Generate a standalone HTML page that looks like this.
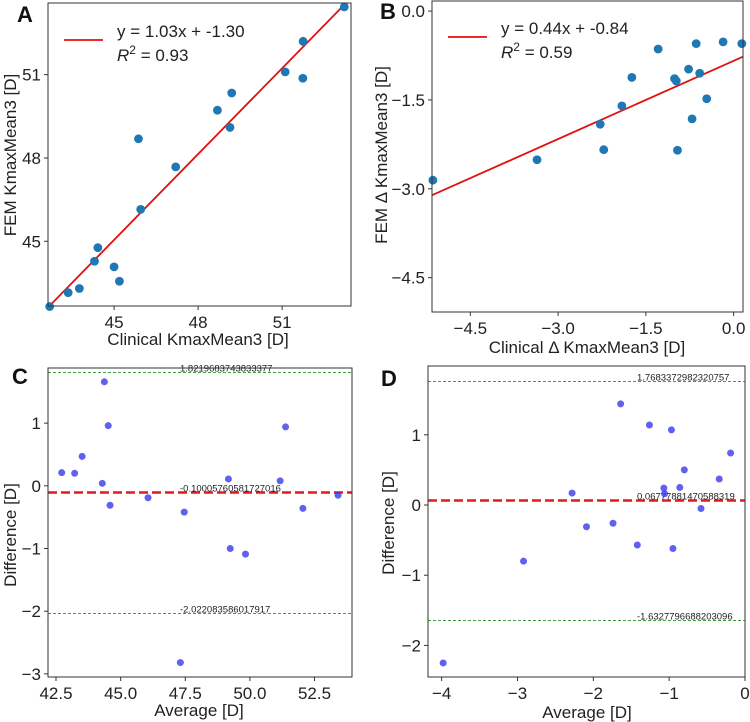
<!DOCTYPE html>
<html><head><meta charset="utf-8">
<style>
html,body{margin:0;padding:0;background:#fff;}
svg{display:block;font-family:"Liberation Sans",sans-serif;}
</style></head>
<body>
<svg id="fig" width="750" height="722" viewBox="0 0 750 722" xmlns="http://www.w3.org/2000/svg"></svg>
<script>
// ---- Panel A data ----
const aX = [42.70,43.36,43.76,44.30,44.42,45.00,45.19,45.87,45.95,47.20,48.69,49.14,49.20,51.11,51.74,51.75,53.22];
const aY = [42.65,43.15,43.30,44.28,44.77,44.08,43.56,48.69,46.15,47.68,49.72,49.10,50.34,51.10,50.87,52.20,53.44];
const aFit = [1.03, -1.30];
const aTicks = [45, 48, 51];
// ---- Panel B data ----
const bX = [-5.14,-3.36,-2.28,-2.22,-1.91,-1.74,-1.29,-1.01,-0.98,-0.96,-0.77,-0.71,-0.64,-0.58,-0.46,-0.18,0.14];
const bY = [-2.855,-2.51,-1.91,-2.34,-1.60,-1.12,-0.64,-1.14,-1.18,-2.35,-0.98,-1.82,-0.55,-1.05,-1.48,-0.52,-0.55];
const bFit = [0.44, -0.84];
const bTicks = [-4.5, -3.0, -1.5, 0.0];
const bTickLabels = ["\u22124.5","\u22123.0","\u22121.5","0.0"];
// ---- Panel C data ----
const cX = [42.72,43.22,43.51,44.37,44.29,44.52,44.59,46.06,47.31,47.46,49.17,49.24,49.83,51.17,51.38,52.05,53.41];
const cY = [0.21,0.20,0.47,1.66,0.04,0.96,-0.31,-0.19,-2.82,-0.42,0.11,-1.00,-1.09,0.08,0.94,-0.36,-0.15];
const cLines = [1.8219683743833377, -0.10005760581727016, -2.022083586017917];
const cXTicks = [42.5,45.0,47.5,50.0,52.5];
const cXTickLabels = ["42.5","45.0","47.5","50.0","52.5"];
const cYTicks = [1,0,-1,-2,-3];
// ---- Panel D data ----
const dX = [-3.98,-2.92,-2.28,-2.09,-1.74,-1.64,-1.42,-1.26,-1.07,-1.06,-0.97,-0.95,-0.86,-0.80,-0.58,-0.34,-0.19];
const dY = [-2.25,-0.80,0.17,-0.31,-0.26,1.44,-0.57,1.14,0.24,0.16,1.07,-0.62,0.25,0.50,-0.05,0.37,0.74];
const dLines = [1.7683372982320757, 0.06777881470588319, -1.6327796688203096];
const dXTicks = [-4,-3,-2,-1,0];
const dYTicks = [1,0,-1,-2];

const NS = "http://www.w3.org/2000/svg";
const svg = document.getElementById('fig');
function mk(tag, attrs, parent, text){
  const e = document.createElementNS(NS, tag);
  for (const k in attrs) e.setAttribute(k, attrs[k]);
  if (text !== undefined) e.textContent = text;
  (parent || svg).appendChild(e);
  return e;
}
function minus(v){ return String(v).replace('-', '\u2212'); }

function panel(cfg){
  const g = mk('g', {});
  
  
  const sx = v => cfg.x0 + (v - cfg.xmin) / (cfg.xmax - cfg.xmin) * (cfg.x1 - cfg.x0);
  const sy = v => cfg.y1 - (v - cfg.ymin) / (cfg.ymax - cfg.ymin) * (cfg.y1 - cfg.y0);
  cfg.xticks.forEach((t,i) => {
    const x = sx(t);
    const tk = mk('line', {x1:x,x2:x,y1:cfg.y1,y2:cfg.y1+4,stroke:'#333','stroke-width':1}, g);
    
    
    const lb = mk('text', {x:x,y:cfg.y1+22,'text-anchor':'middle','font-size':17,fill:'#222'}, g, cfg.xlabels ? cfg.xlabels[i] : minus(t));
    
    
  });
  cfg.yticks.forEach((t,i) => {
    const y = sy(t);
    const tk = mk('line', {x1:cfg.x0-4,x2:cfg.x0,y1:y,y2:y,stroke:'#333','stroke-width':1}, g);
    
    
    const lb = mk('text', {x:cfg.x0-7,y:y+6,'text-anchor':'end','font-size':17,fill:'#222'}, g, cfg.ylabels ? cfg.ylabels[i] : minus(t));
    
    
  });
  const clip = 'clip-' + cfg.name;
  const cp = mk('clipPath', {id:clip}, g);
  mk('rect', {x:cfg.x0,y:cfg.y0,width:cfg.x1-cfg.x0,height:cfg.y1-cfg.y0}, cp);
  const plot = mk('g', {'clip-path':'url(#'+clip+')'}, g);
  if (cfg.hlines){
    cfg.hlines.forEach((v,i) => {
      const y = Math.round(sy(v)) + 0.5;
      const isMean = i === 1;
      const ln = mk('line', {x1:cfg.x0,x2:cfg.x1,y1:y,y2:y,stroke:isMean?'#e31a1c':'#3fa03f','stroke-width':isMean?2.6:1.1,'stroke-dasharray':isMean?'9,4':'3,2'}, plot);
      
      
      const tx = mk('text', {x:cfg.hlabelX,y:y-1,'font-size':9.5,fill:'#222'}, g, String(v));
      
      
    });
  }
  if (cfg.fit){
    const xa = cfg.fitRange[0], xb = cfg.fitRange[1];
    const fl = mk('line', {x1:sx(xa),y1:sy(cfg.fit[0]*xa+cfg.fit[1]),x2:sx(xb),y2:sy(cfg.fit[0]*xb+cfg.fit[1]),stroke:'#e01010','stroke-width':1.8}, plot);
    
    
  }
  cfg.xs.forEach((v,i) => {
    const c = mk('circle', {cx:sx(v),cy:sy(cfg.ys[i]),r:cfg.r,fill:cfg.color,'fill-opacity':cfg.alpha}, g);
    
    
  });
  const fr = mk('rect', {x:cfg.x0,y:cfg.y0,width:cfg.x1-cfg.x0,height:cfg.y1-cfg.y0,fill:'none',stroke:'#333','stroke-width':1}, g);
  
  
  const xt = mk('text', {x:cfg.xtX,y:cfg.xtY,'text-anchor':'middle','font-size':17,fill:'#222'}, g, cfg.xtitle);
  
  
  const yt = mk('text', {x:0,y:0,'text-anchor':'middle','font-size':17,fill:'#222',transform:'translate('+cfg.ytX+','+cfg.ytY+') rotate(-90)'}, g, cfg.ytitle);
  
  
  const pl = mk('text', {x:cfg.lx,y:cfg.ly,'font-size':22,'font-weight':'bold',fill:'#111'}, g, cfg.letter);
  
  
  if (cfg.legend){
    const L = cfg.legend;
    const lg = mk('g', {}, g);
    
    
    mk('line', {x1:L.x,x2:L.x+39,y1:L.y,y2:L.y,stroke:'#e01010','stroke-width':1.8}, lg);
    mk('text', {x:L.x+53,y:L.y-3,'font-size':17,fill:'#222'}, lg, L.eq);
    const t2 = mk('text', {x:L.x+53,y:L.y+21,'font-size':17,fill:'#222'}, lg);
    mk('tspan', {'font-style':'italic'}, t2, 'R');
    mk('tspan', {dy:-7,'font-size':12}, t2, '2');
    mk('tspan', {dy:7}, t2, ' = ' + L.r2);
  }
}

panel({name:'panel-a',letter:'A',lx:17,ly:22,x0:48,x1:351,y0:3,y1:306,xmin:42.64,xmax:53.46,ymin:42.67,ymax:53.58,
  xticks:aTicks,yticks:aTicks,xs:aX,ys:aY,r:4.4,color:'#1f77b4',alpha:1,fit:aFit,fitRange:[42.7,53.22],
  xtitle:'Clinical KmaxMean3 [D]',xtX:198,xtY:345,ytitle:'FEM KmaxMean3 [D]',ytX:16,ytY:155,
  legend:{x:64,y:40,eq:'y = 1.03x + -1.30',r2:'0.93'}});
panel({name:'panel-b',letter:'B',lx:380,ly:19,x0:432,x1:743,y0:1,y1:312,xmin:-5.155,xmax:0.16,ymin:-5.08,ymax:0.17,
  xticks:bTicks,xlabels:bTickLabels,yticks:bTicks,ylabels:bTickLabels,xs:bX,ys:bY,r:4.4,color:'#1f77b4',alpha:1,fit:bFit,fitRange:[-5.155,0.16],
  xtitle:'Clinical \u0394 KmaxMean3 [D]',xtX:587,xtY:353,ytitle:'FEM \u0394 KmaxMean3 [D]',ytX:387,ytY:155,
  legend:{x:448,y:37,eq:'y = 0.44x + -0.84',r2:'0.59'}});
panel({name:'panel-c',letter:'C',lx:12,ly:384,x0:48,x1:352,y0:368,y1:677,xmin:42.19,xmax:53.95,ymin:-3.05,ymax:1.88,
  xticks:cXTicks,xlabels:cXTickLabels,yticks:cYTicks,xs:cX,ys:cY,r:3.5,color:'#3a3aee',alpha:0.8,hlines:cLines,hlabelX:180,
  xtitle:'Average [D]',xtX:199,xtY:716,ytitle:'Difference [D]',ytX:16,ytY:535});
panel({name:'panel-d',letter:'D',lx:381,ly:386,x0:428,x1:745,y0:366,y1:677,xmin:-4.18,xmax:0.0,ymin:-2.45,ymax:1.98,
  xticks:dXTicks,yticks:dYTicks,xs:dX,ys:dY,r:3.5,color:'#3a3aee',alpha:0.8,hlines:dLines,hlabelX:637,
  xtitle:'Average [D]',xtX:587,xtY:718,ytitle:'Difference [D]',ytX:394,ytY:523});
</script>
</body></html>
